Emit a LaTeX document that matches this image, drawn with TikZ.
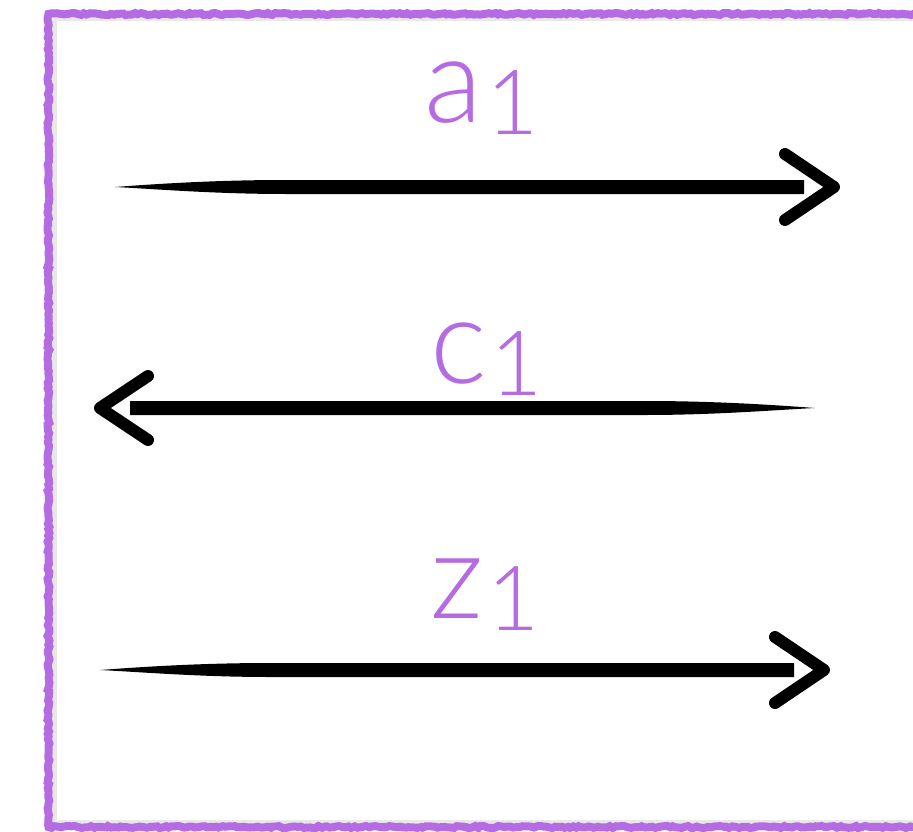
\documentclass[tikz,border=0pt]{standalone}
\usepackage{fontspec}
\setmainfont{Lato}[UprightFont=* Light]
\usetikzlibrary{calc,decorations.pathmorphing}
\definecolor{lilac}{RGB}{181,108,226}
\tikzset{
  ink/.style={fill=black},
  chevron/.style={draw=black,line width=12pt,line cap=round,line join=round},
  lbl/.style={text=lilac,inner sep=0pt,anchor=base west,font=\fontsize{120}{120}\selectfont},
  frame/.style={draw=lilac,line width=8pt,decorate,decoration={random steps,segment length=3pt,amplitude=1pt}},
  shade/.style={draw=black!9,line width=5pt},
}
\newcommand{\subone}{\hspace{4pt}\raisebox{-12pt}{\fontsize{90}{90}\selectfont 1}}
\begin{document}
\begin{tikzpicture}[x=1pt,y=-1pt]
\useasboundingbox (0,0) rectangle (913,832);
\clip (0,0) rectangle (913,832);
% frame with soft shadow
\draw[shade] (960,19) -- (54,19) -- (54,822) -- (960,822);
\draw[frame] (960,14) -- (48.5,14) -- (48.5,827) -- (960,827);

% labels
\node[lbl] (la) at (424,123) {a\subone};
\node[lbl] (lc) at (430,383) {c\subone};
\node[lbl] (lz) at (430,618) {z\subone};

% arrow 1 (right)
\coordinate (t1) at (115,187);
\coordinate (h1) at (834,187);
\fill[ink] (t1) .. controls +(40,-3) and +(-70,0) .. ($(t1)+(170,-7)$) -- ($(h1)+(-30,-7)$) -- ($(h1)+(-30,7)$) -- ($(t1)+(170,7)$) .. controls +(-70,0) and +(40,2) .. (t1) -- cycle;
\draw[chevron] ($(h1)+(-49,-33)$) -- (h1) -- ($(h1)+(-49,33)$);

% arrow 2 (left)
\coordinate (t2) at (815,408);
\coordinate (h2) at (100,408);
\fill[ink] (t2) .. controls +(-40,-3) and +(70,0) .. ($(t2)+(-170,-7)$) -- ($(h2)+(30,-7)$) -- ($(h2)+(30,7)$) -- ($(t2)+(-170,7)$) .. controls +(70,0) and +(-40,2) .. (t2) -- cycle;
\draw[chevron] ($(h2)+(48,-32)$) -- (h2) -- ($(h2)+(48,32)$);

% arrow 3 (right)
\coordinate (t3) at (100,670);
\coordinate (h3) at (824,670);
\fill[ink] (t3) .. controls +(40,-3) and +(-70,0) .. ($(t3)+(170,-7)$) -- ($(h3)+(-30,-7)$) -- ($(h3)+(-30,7)$) -- ($(t3)+(170,7)$) .. controls +(-70,0) and +(40,2) .. (t3) -- cycle;
\draw[chevron] ($(h3)+(-49,-33)$) -- (h3) -- ($(h3)+(-49,33)$);
\end{tikzpicture}
\end{document}
